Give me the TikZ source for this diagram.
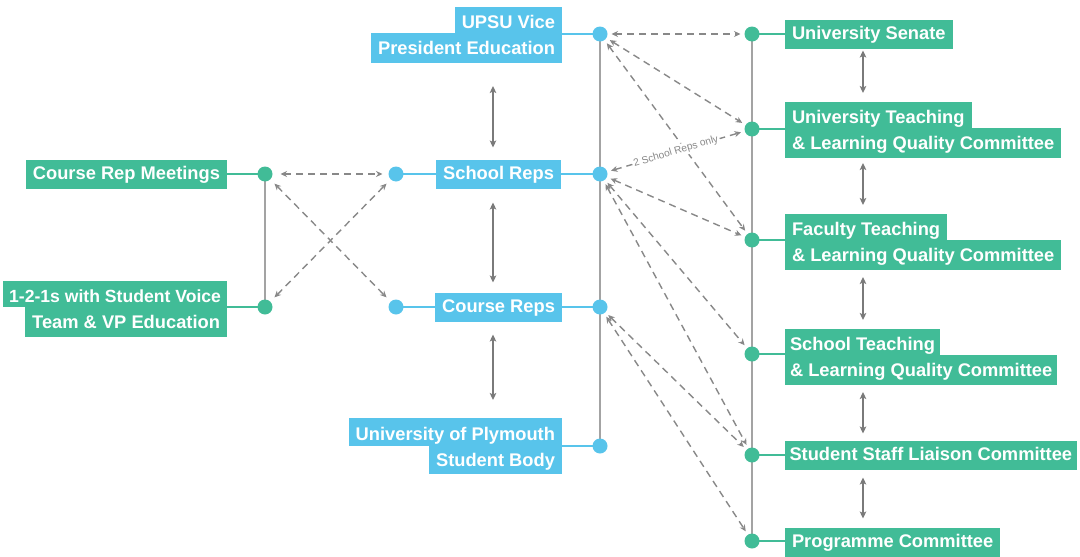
\documentclass[tikz,border=0pt]{standalone}
\usepackage{fontspec}
\setmainfont{Liberation Sans}
\usetikzlibrary{arrows.meta,backgrounds}
\definecolor{bl}{HTML}{58C4EB}
\definecolor{gr}{HTML}{41BC97}
\definecolor{ln}{HTML}{A3A3A3}
\definecolor{da}{HTML}{888888}
\definecolor{ar}{HTML}{7A7A7A}
\begin{document}
\begin{tikzpicture}[x=1pt,y=-1pt,
  lbl/.style={text=white,font=\fontsize{18.3}{22}\selectfont\bfseries,inner xsep=7pt,inner ysep=0pt,outer sep=0pt},
  oneline/.style={lbl,text height=20pt,text depth=9pt},
  upline/.style={lbl,text height=21pt,text depth=5pt},
  lowline/.style={lbl,text height=21pt,text depth=9pt},
  bdot/.style={circle,fill=bl,minimum size=15pt,inner sep=0pt,outer sep=0pt},
  gdot/.style={circle,fill=gr,minimum size=15pt,inner sep=0pt,outer sep=0pt},
  bconn/.style={draw=bl,line width=2pt},
  gconn/.style={draw=gr,line width=2pt},
  vline/.style={draw=ln,line width=2pt},
  dasharrow/.style={draw=da,line width=1.4pt,dash pattern=on 7pt off 5pt,{Stealth[length=6.5pt,width=6pt]}-{Stealth[length=6.5pt,width=6pt]},shorten <=4pt,shorten >=4pt},
  dblarrow/.style={draw=ar,line width=1.6pt,{Stealth[length=7pt,width=6.5pt,inset=1.5pt]}-{Stealth[length=7pt,width=6.5pt,inset=1.5pt]}},
  tag/.style={sloped,fill=white,text=da,font=\fontsize{10.2}{12}\selectfont,inner sep=1.5pt}
]
\useasboundingbox (0,0) rectangle (1080,557);

% ---------- blue boxes ----------
\node[upline,fill=bl,anchor=south east] (vp1) at (562,33) {UPSU Vice};
\node[lowline,fill=bl,anchor=north east] (vp2) at (562,33) {President Education};
\node[oneline,fill=bl,anchor=east] (srep) at (561,174) {School Reps};
\node[oneline,fill=bl,anchor=east] (crep) at (562,307) {Course Reps};
\node[upline,fill=bl,anchor=south east,text height=22pt,text depth=6pt] (body1) at (562,446) {University of Plymouth};
\node[lowline,fill=bl,anchor=north east,text height=20pt,text depth=8pt] (body2) at (562,446) {Student Body};

% ---------- left green boxes ----------
\node[oneline,fill=gr,anchor=east] (crm) at (227,174) {Course Rep Meetings};
\node[upline,fill=gr,anchor=south east,font=\fontsize{17.6}{22}\selectfont\bfseries,inner xsep=6pt] (oto1) at (227,307) {1-2-1s with Student Voice};
\node[lowline,fill=gr,anchor=north east] (oto2) at (227,307) {Team \& VP Education};

% ---------- right green boxes ----------
\node[oneline,fill=gr,anchor=west] (sen) at (785,34) {University Senate};
\node[upline,fill=gr,anchor=south west] (ut1) at (785,128) {University Teaching};
\node[lowline,fill=gr,anchor=north west] (ut2) at (785,128) {\& Learning Quality Committee};
\node[upline,fill=gr,anchor=south west] (ft1) at (785,240) {Faculty Teaching};
\node[lowline,fill=gr,anchor=north west] (ft2) at (785,240) {\& Learning Quality Committee};
\node[upline,fill=gr,anchor=south west,inner xsep=5pt] (st1) at (785,355) {School Teaching};
\node[lowline,fill=gr,anchor=north west,inner xsep=5pt] (st2) at (785,355) {\& Learning Quality Committee};
\node[oneline,fill=gr,anchor=west,inner xsep=4.5pt] (ssl) at (785,455) {Student Staff Liaison Committee};
\node[oneline,fill=gr,anchor=west] (pc) at (785,542) {Programme Committee};

% ---------- dots ----------
\node[bdot] (du) at (600,34) {};
\node[bdot] (ds) at (600,174) {};
\node[bdot] (dc) at (600,307) {};
\node[bdot] (db) at (600,446) {};
\node[bdot] (dsl) at (396,174) {};
\node[bdot] (dcl) at (396,307) {};
\node[gdot] (dm) at (265,174) {};
\node[gdot] (do) at (265,307) {};
\node[gdot] (g1) at (752,34) {};
\node[gdot] (g2) at (752,129) {};
\node[gdot] (g3) at (752,240) {};
\node[gdot] (g4) at (752,354) {};
\node[gdot] (g5) at (752,455) {};
\node[gdot] (g6) at (752,541) {};

\begin{pgfonlayer}{background}
  \draw[vline] (du.center) -- (db.center);
  \draw[vline] (dm.center) -- (do.center);
  \draw[vline] (g1.center) -- (g6.center);
  \draw[bconn] (du.center) -- (du -| vp2.east);
  \draw[bconn] (ds.center) -- (ds -| srep.east);
  \draw[bconn] (dc.center) -- (dc -| crep.east);
  \draw[bconn] (db.center) -- (db -| body2.east);
  \draw[bconn] (dsl.center) -- (dsl -| srep.west);
  \draw[bconn] (dcl.center) -- (dcl -| crep.west);
  \draw[gconn] (dm.center) -- (dm -| crm.east);
  \draw[gconn] (do.center) -- (do -| oto2.east);
  \draw[gconn] (g1.center) -- (g1 -| sen.west);
  \draw[gconn] (g2.center) -- (g2 -| ut2.west);
  \draw[gconn] (g3.center) -- (g3 -| ft2.west);
  \draw[gconn] (g4.center) -- (g4 -| st2.west);
  \draw[gconn] (g5.center) -- (g5 -| ssl.west);
  \draw[gconn] (g6.center) -- (g6 -| pc.west);
\end{pgfonlayer}

% ---------- dashed links ----------
\draw[dasharrow] (du) -- (g1);
\draw[dasharrow] (du) -- (g2);
\draw[dasharrow] (du) -- (g3);
\draw[dasharrow] (ds) -- node[tag,pos=0.5]{2 School Reps only} (g2);
\draw[dasharrow] (ds) -- (g3);
\draw[dasharrow] (ds) -- (g4);
\draw[dasharrow] (ds) -- (g5);
\draw[dasharrow] (dc) -- (g5);
\draw[dasharrow] (dc) -- (g6);
\draw[dasharrow,shorten <=8pt,shorten >=6pt] (dm) -- (dsl);
\draw[dasharrow,shorten <=6pt,shorten >=6pt] (dm) -- (dcl);
\draw[dasharrow,shorten <=6pt,shorten >=6pt] (do) -- (dsl);

% ---------- vertical double arrows ----------
\coordinate (bx) at (493,0);
\coordinate (gx) at (863,0);
\draw[dblarrow,shorten <=23pt,shorten >=12pt] (vp2.south -| bx) -- (srep.north -| bx);
\draw[dblarrow,shorten <=14pt,shorten >=10pt] (srep.south -| bx) -- (crep.north -| bx);
\draw[dblarrow,shorten <=13pt,shorten >=18pt] (crep.south -| bx) -- (body1.north -| bx);
\draw[dblarrow,shorten <=2pt,shorten >=9pt] (sen.south -| gx) -- (ut1.north -| gx);
\draw[dblarrow,shorten <=5pt,shorten >=9pt] (ut2.south -| gx) -- (ft1.north -| gx);
\draw[dblarrow,shorten <=7pt,shorten >=9pt] (ft2.south -| gx) -- (st1.north -| gx);
\draw[dblarrow,shorten <=7pt,shorten >=7pt] (st2.south -| gx) -- (ssl.north -| gx);
\draw[dblarrow,shorten <=8pt,shorten >=9pt] (ssl.south -| gx) -- (pc.north -| gx);
\end{tikzpicture}
\end{document}
